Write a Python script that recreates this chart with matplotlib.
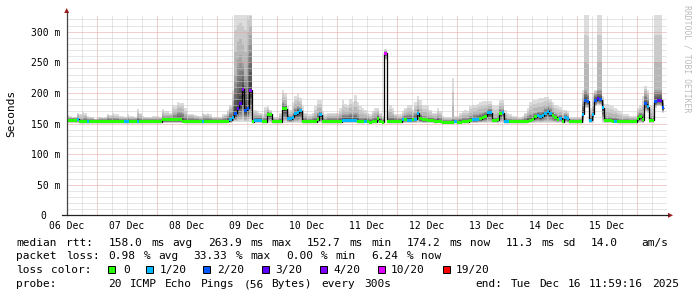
import re
import numpy as np
import matplotlib
matplotlib.use("Agg")
import matplotlib.pyplot as plt
import matplotlib.transforms as mtransforms
from matplotlib.patches import Polygon, Rectangle
from matplotlib.lines import Line2D

plt.rcParams['font.family'] = 'DejaVu Sans Mono'

# ---------------------------------------------------------
# DATA (hourly, starting 06 Dec 12:00)
# ---------------------------------------------------------
day_labels = ['06 Dec', '07 Dec', '08 Dec', '09 Dec', '10 Dec',
              '11 Dec', '12 Dec', '13 Dec', '14 Dec', '15 Dec']

median_ms = [
    155, 155, 155, 155, 157, 153, 153, 153, 153, 153, 153, 153, 153, 153, 153, 153, 153, 153, 153, 153, 153, 153, 153, 153,
    153, 153, 153, 153, 153, 153, 153, 153, 153, 153, 153, 153, 153, 153, 156, 156, 156, 156, 156, 156, 156, 156, 154, 153,
    153, 153, 153, 153, 153, 153, 153, 153, 153, 153, 153, 153, 153, 153, 153, 153, 154, 156, 160, 167, 175, 182, 206, 172,
    175, 204, 153, 155, 155, 155, 153, 153, 165, 165, 153, 153, 153, 153, 174, 174, 159, 158, 160, 166, 168, 171, 153, 153,
    153, 153, 153, 153, 156, 164, 153, 153, 153, 153, 153, 153, 153, 153, 155, 155, 155, 155, 155, 155, 153, 153, 153, 154,
    153, 152, 153, 153, 158, 154, 152, 265, 153, 153, 153, 153, 153, 153, 156, 157, 155, 155, 156, 157, 167, 158, 156, 156,
    155, 155, 155, 153, 154, 153, 152, 152, 152, 152, 152, 153, 152, 152, 153, 153, 153, 155, 156, 156, 157, 158, 160, 162,
    168, 168, 155, 155, 156, 167, 168, 153, 153, 153, 153, 153, 153, 153, 153, 153, 154, 155, 157, 161, 163, 161, 163, 167,
    170, 166, 163, 160, 157, 159, 153, 160, 158, 153, 153, 153, 153, 153, 165, 188, 186, 155, 165, 188, 191, 189, 176, 155,
    155, 155, 154, 154, 153, 153, 153, 153, 153, 153, 153, 153, 158, 161, 156, 182, 177, 155, 155, 186, 188, 188, 176,
]

# lost pings out of 20 (legend class)
loss_class = [
    0, 0, 0, 0, 1, 0, 0, 0, 1, 0, 0, 0, 0, 0, 0, 0, 0, 0, 0, 0, 0, 0, 0, 1,
    1, 0, 0, 0, 1, 0, 0, 0, 0, 0, 0, 0, 0, 0, 0, 0, 0, 0, 0, 0, 0, 0, 0, 0,
    0, 0, 0, 0, 0, 0, 1, 0, 0, 0, 0, 0, 0, 0, 0, 0, 0, 1, 1, 2, 3, 3, 4, 2,
    2, 4, 0, 1, 1, 1, 0, 0, 0, 0, 0, 0, 0, 0, 0, 0, 1, 1, 1, 1, 1, 1, 0, 0,
    0, 0, 0, 0, 0, 1, 0, 0, 0, 0, 0, 0, 0, 0, 1, 1, 1, 1, 1, 1, 0, 0, 0, 1,
    0, 0, 0, 0, 0, 0, 0, 10, 0, 0, 0, 0, 0, 0, 1, 0, 1, 1, 0, 1, 1, 0, 0, 0,
    0, 0, 0, 0, 0, 0, 0, 0, 0, 0, 0, 1, 0, 0, 0, 0, 0, 0, 1, 1, 1, 0, 0, 0,
    1, 1, 0, 0, 0, 0, 1, 1, 1, 0, 0, 0, 0, 0, 0, 0, 0, 0, 0, 0, 1, 1, 1, 1,
    1, 1, 0, 0, 0, 1, 0, 1, 1, 0, 0, 0, 0, 0, 1, 2, 2, 1, 1, 2, 3, 2, 1, 0,
    0, 0, 0, 1, 0, 0, 0, 0, 0, 0, 0, 0, 0, 0, 0, 2, 1, 0, 0, 2, 3, 3, 2,
]

# smoke: lowest ping, upper dense part, highest ping (ms)
smoke_lo = [
    151, 151, 151, 151, 151, 151, 151, 151, 151, 151, 151, 151, 151, 151, 151, 151, 151, 151, 151, 151, 151, 151, 151, 151,
    151, 151, 151, 151, 151, 151, 151, 151, 151, 151, 151, 151, 151, 151, 151, 151, 151, 151, 151, 151, 151, 151, 151, 151,
    151, 151, 151, 151, 151, 151, 151, 151, 151, 151, 151, 151, 151, 151, 151, 151, 151, 151, 152, 152, 152, 152, 152, 152,
    152, 152, 151, 151, 151, 151, 151, 151, 151, 151, 151, 151, 151, 151, 151, 151, 151, 151, 151, 151, 151, 151, 151, 151,
    151, 151, 151, 151, 151, 151, 151, 151, 151, 151, 151, 151, 151, 151, 151, 151, 151, 151, 151, 151, 151, 151, 151, 151,
    151, 151, 151, 151, 151, 151, 151, 254, 151, 151, 151, 151, 151, 151, 151, 151, 151, 151, 151, 151, 151, 151, 151, 151,
    151, 151, 151, 151, 151, 151, 151, 151, 151, 151, 151, 151, 151, 151, 151, 151, 151, 151, 151, 151, 151, 151, 151, 151,
    151, 151, 151, 151, 151, 151, 151, 151, 151, 151, 151, 151, 151, 151, 151, 151, 151, 151, 151, 151, 151, 151, 151, 151,
    151, 151, 151, 151, 151, 151, 151, 151, 151, 151, 151, 151, 151, 151, 151, 175, 175, 151, 151, 178, 180, 180, 151, 151,
    151, 151, 151, 151, 151, 151, 151, 151, 151, 151, 151, 151, 151, 151, 151, 170, 168, 151, 151, 176, 178, 178, 168,
]

smoke_mid = [
    159, 159, 159, 159, 161, 158, 159, 160, 158, 158, 158, 157, 157, 158, 158, 158, 160, 159, 160, 159, 159, 158, 158, 158,
    159, 158, 158, 158, 161, 159, 158, 158, 158, 158, 158, 158, 158, 158, 163, 162, 162, 162, 166, 166, 170, 170, 168, 162,
    160, 160, 160, 159, 159, 158, 160, 160, 160, 159, 158, 158, 158, 158, 159, 160, 163, 170, 185, 230, 255, 262, 250, 230,
    280, 295, 158, 162, 162, 162, 159, 160, 170, 168, 158, 157, 157, 159, 185, 182, 165, 163, 168, 175, 178, 176, 162, 160,
    158, 158, 160, 162, 168, 170, 160, 158, 160, 160, 160, 160, 160, 162, 165, 165, 165, 168, 165, 168, 165, 160, 160, 160,
    160, 158, 160, 163, 165, 160, 158, 268, 160, 163, 162, 160, 159, 159, 162, 164, 165, 165, 164, 168, 174, 166, 163, 163,
    162, 161, 160, 159, 162, 160, 157, 156, 156, 156, 158, 157, 157, 158, 160, 160, 160, 163, 165, 165, 166, 168, 168, 170,
    174, 174, 160, 160, 162, 174, 174, 160, 158, 158, 157, 157, 157, 157, 158, 160, 163, 166, 168, 168, 170, 170, 172, 175,
    178, 175, 170, 166, 163, 164, 160, 165, 163, 157, 157, 157, 157, 157, 185, 205, 200, 162, 178, 198, 205, 205, 185, 162,
    162, 161, 160, 160, 159, 158, 158, 158, 158, 157, 157, 157, 165, 168, 168, 198, 192, 162, 162, 205, 205, 205, 185,
]

smoke_hi = [
    164, 162, 160, 161, 168, 166, 169, 167, 163, 161, 160, 158, 160, 161, 159, 160, 166, 164, 167, 165, 165, 163, 163, 161,
    165, 163, 163, 161, 173, 168, 162, 161, 160, 160, 163, 162, 163, 161, 174, 170, 170, 168, 180, 178, 185, 184, 183, 175,
    166, 165, 166, 164, 163, 162, 168, 166, 167, 165, 160, 161, 161, 160, 165, 165, 172, 180, 205, 340, 340, 340, 340, 340,
    340, 340, 172, 172, 170, 168, 165, 177, 178, 172, 160, 160, 160, 168, 205, 200, 178, 172, 185, 195, 198, 192, 178, 168,
    165, 165, 168, 178, 188, 188, 170, 165, 168, 168, 168, 168, 168, 175, 188, 182, 180, 190, 185, 196, 185, 178, 175, 172,
    168, 165, 170, 175, 175, 168, 163, 271, 170, 180, 175, 165, 165, 165, 170, 175, 180, 180, 172, 185, 195, 188, 180, 180,
    178, 172, 168, 168, 175, 170, 163, 160, 160, 160, 224, 163, 163, 168, 170, 172, 170, 178, 180, 180, 182, 185, 186, 186,
    186, 186, 180, 178, 180, 188, 188, 172, 168, 165, 163, 163, 160, 160, 163, 168, 175, 185, 188, 188, 190, 191, 191, 193,
    193, 190, 185, 180, 178, 177, 172, 172, 170, 160, 160, 160, 160, 160, 205, 340, 340, 175, 200, 205, 340, 340, 195, 182,
    182, 180, 178, 175, 172, 170, 165, 165, 165, 163, 163, 163, 175, 180, 195, 211, 205, 180, 180, 340, 340, 340, 190,
]

loss_levels = [0, 1, 2, 3, 4, 10, 19]
loss_labels = ['0', '1/20', '2/20', '3/20', '4/20', '10/20', '19/20']
loss_colors = ['#26ff00', '#00b8ff', '#0059ff', '#5e00ff', '#7e00ff', '#dd00ff', '#ff0000']

y_ticks = [0, 50, 100, 150, 200, 250, 300]
y_tick_labels = ['0', '50 m', '100 m', '150 m', '200 m', '250 m', '300 m']

row_rtt = "median rtt:  158.0 ms avg  263.9 ms max  152.7 ms min  174.2 ms now  11.3 ms sd  14.0   am/s"
row_loss = "packet loss: 0.98 % avg  33.33 % max  0.00 % min  6.24 % now"
row_probe = "probe:       20 ICMP Echo Pings (56 Bytes) every 300s"
row_end = "end: Tue Dec 16 11:59:16 2025"

# ---------------------------------------------------------
# FIGURE
# ---------------------------------------------------------
W, H = 697, 297
fig = plt.figure(figsize=(W / 100, H / 100), dpi=100)
ax = fig.add_axes([66.7 / W, (H - 215.3) / H, 600 / W, (215.3 - 14.6) / H])
ax.set_xlim(0, 240)
ax.set_ylim(0, 328)
for s in ax.spines.values():
    s.set_visible(False)

med = np.array(median_ms, dtype=float)
lo = np.array(smoke_lo, dtype=float)
mid = np.array(smoke_mid, dtype=float)
hi = np.array(smoke_hi, dtype=float)
edges = np.arange(len(med) + 1)

# smoke: 10 bands, outer light -> inner dark
for k in range(10):
    if k <= 3:
        top = hi + (mid - hi) * k / 3
    else:
        top = mid + (med - mid) * (k - 3) / 6
    bot = lo + (med - lo) * k / 10
    g = int(190 / 10 * (10 - (k + 1))) + 50
    ax.stairs(top, edges, baseline=bot, fill=True,
              color='#%02x%02x%02x' % (g, g, g), lw=0, zorder=1)

# grid
minor_c, major_c = '#cccccc', '#e6a0a0'
for h in range(6, 240, 6):
    ax.axvline(h, color=major_c if (h - 12) % 24 == 0 else minor_c,
               lw=0.72, ls=(0, (1, 1)), zorder=2)
for v in range(10, 330, 10):
    ax.axhline(v, color=major_c if v % 50 == 0 else minor_c,
               lw=0.72, ls=(0, (1, 1)), zorder=2)

# median line + loss coloured segments
ax.stairs(med, edges, baseline=None, color='black', lw=0.9, zorder=3)
cmap = dict(zip(loss_levels, loss_colors))
ax.bar(edges[:-1], 4.9, bottom=med - 2.45, width=1, align='edge',
       color=[cmap[c] for c in loss_class], lw=0, zorder=4)

# ticks
ax.set_xticks(np.arange(0, 240, 24), day_labels)
ax.set_yticks(y_ticks, y_tick_labels)
ax.tick_params(axis='both', length=0, labelsize=7, colors='black')
ax.tick_params(axis='y', pad=4.8)
ax.tick_params(axis='x', pad=4.0)
zero_lab = ax.get_yticklabels()[0]
zero_lab.set_transform(zero_lab.get_transform() +
                       mtransforms.ScaledTranslation(-0.133, 0, fig.dpi_scale_trans))


def px(x, y):
    return x / W, 1 - y / H


# axes with arrows
fig.add_artist(Line2D([66.7 / W] * 2, [1 - 215.3 / H, 1 - 12.5 / H], color='#444444', lw=0.9))
fig.add_artist(Line2D([62 / W, 668 / W], [1 - 215.3 / H] * 2, color='#222222', lw=0.9))
arrow_c = '#9a1c1c'
fig.add_artist(Polygon([px(64.2, 13), px(69.2, 13), px(66.7, 8)], closed=True,
                       transform=fig.transFigure, color=arrow_c, lw=0))
fig.add_artist(Polygon([px(668, 212.8), px(668, 217.8), px(673, 215.3)], closed=True,
                       transform=fig.transFigure, color=arrow_c, lw=0))

fig.text(*px(11, 113.3), 'Seconds', rotation=90, ha='center', va='center', fontsize=8)
fig.text(*px(687.5, 5), 'RRDTOOL / TOBI OETIKER', rotation=270, ha='center', va='top',
         fontsize=5.9, color='#bbbbbb')


def put_words(s, x0, y, cw=7.1):
    for m in re.finditer(r'\S+', s):
        fig.text(*px(x0 + m.start() * cw, y), m.group(), fontsize=8,
                 ha='left', va='baseline')


put_words(row_rtt, 16, 245.6)
put_words(row_loss, 16, 259.4)
put_words("loss color:", 16, 273.3)
put_words(row_probe, 16, 287.3)
put_words(row_end, 681 - len(row_end) * 7.1, 287.3)

sw_x = [108.3, 145.7, 202.7, 261.7, 320, 377.7, 443.3]
lab_x = [123.5, 159.5, 216.8, 275.5, 333.5, 391.2, 456.2]
for sx, lx, c, lab in zip(sw_x, lab_x, loss_colors, loss_labels):
    fig.add_artist(Rectangle(px(sx, 273.3), 7 / W, 7 / H, transform=fig.transFigure,
                             facecolor=c, edgecolor='black', lw=0.72))
    fig.text(*px(lx, 273.3), lab, fontsize=8, ha='left', va='baseline')

fig.savefig('out.png', dpi=100)
